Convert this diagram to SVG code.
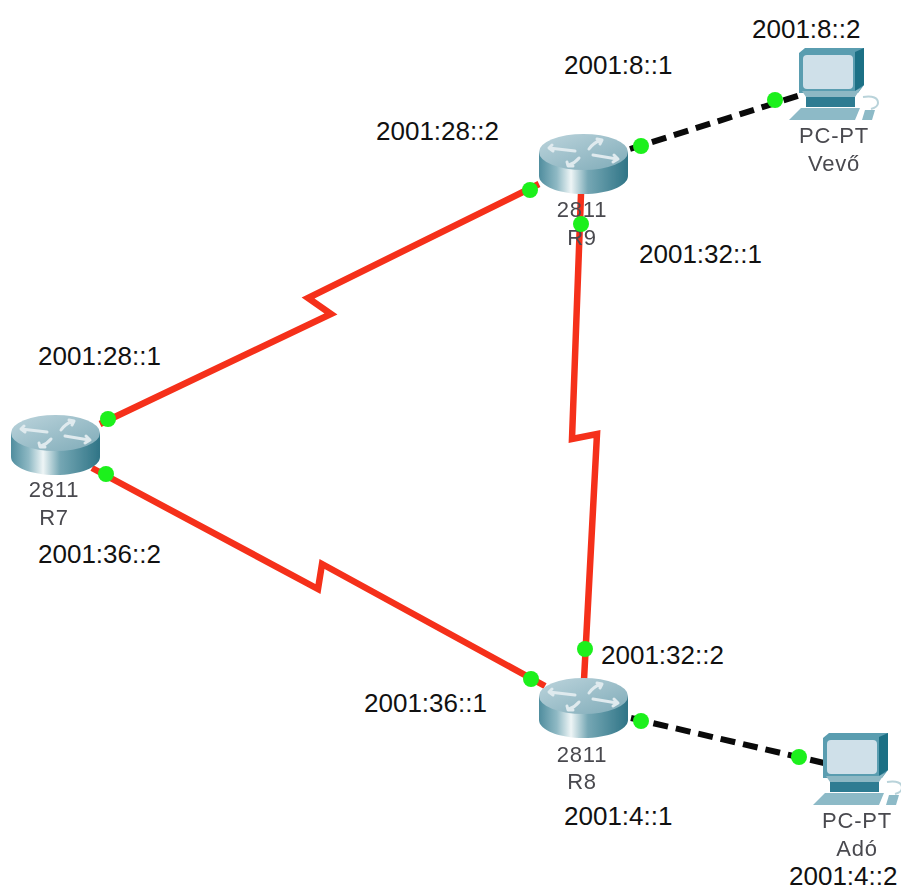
<svg xmlns="http://www.w3.org/2000/svg" width="901" height="891" viewBox="0 0 901 891">
<style>
.addr{font:26px "Liberation Sans",Arial,sans-serif;fill:#111}
.dev{font:22px "Liberation Sans",Arial,sans-serif;fill:#4a4a4f;text-anchor:middle;letter-spacing:.8px}
.serial{fill:none;stroke:#f5301a;stroke-width:6.500;stroke-linejoin:miter}
.eth{fill:none;stroke:#0a0a0a;stroke-width:6;stroke-dasharray:15 8}
.dot{fill:#1cf01c}
.arrow{fill:none;stroke:#dfeaee;stroke-width:3;stroke-linecap:round;stroke-linejoin:round}
</style>
<defs>
<linearGradient id="rb" x1="0" x2="1" y1="0" y2="0">
<stop offset="0" stop-color="#4f8d9e"/><stop offset=".2" stop-color="#8fb9c4"/><stop offset=".36" stop-color="#eef5f6"/><stop offset=".55" stop-color="#75a7b4"/><stop offset="1" stop-color="#2f7486"/>
</linearGradient>
<linearGradient id="rt" x1="0" x2="1" y1="0" y2="1">
<stop offset="0" stop-color="#bcd4dc"/><stop offset="1" stop-color="#7fabb8"/>
</linearGradient>
<filter id="soft" x="-5%" y="-5%" width="110%" height="110%"><feGaussianBlur stdDeviation="0.600"/></filter>
<g id="router">
<path d="M0 18V42C0 52 20 60 44.500 60S89 52 89 42V18Z" fill="url(#rb)"/>
<ellipse cx="44.500" cy="18" rx="44.500" ry="18" fill="url(#rt)"/>
<path class="arrow" d="M10 14 L36 17 M13 11 L10 14 L14 17"/>
<path class="arrow" d="M50 15 Q54 9 62 6 M58 5 L63 6 L61 10"/>
<path class="arrow" d="M54 21 L78 25 M74 28 L79 25 L75 21"/>
<path class="arrow" d="M30 31 Q36 29 40 24 M28 28 L29 32 L34 32"/>
</g>
<g id="pc">
<path d="M10 6 L16 1 H75 V38 L69 46 H10Z" fill="#5a9db0"/>
<path d="M66 5 L75 1 V38 L66 44Z" fill="#1f6f85"/>
<rect x="14" y="8" width="50" height="34" rx="4" fill="#cfe0e9"/>
<path d="M13 44 H66 L72 41 L66 50 H17Z" fill="#8db8c4"/>
<path d="M17 50 H66 V60 H17Z" fill="#2f7c92"/>
<path d="M12 61 H71 L66 73 H0Z" fill="#8dbac7"/>
<path d="M74 50 Q89 48 89 56 Q89 60 82 62" fill="none" stroke="#b9d3da" stroke-width="2"/>
<path d="M76 63 H86 L83 73 H73Z" fill="#8dbac7"/>
</g>
</defs>

<g id="connectors">
<path class="serial" d="M100 424 L331 314 L308 298 L539 184"/>
<path class="serial" d="M581 194 L572 439 L597 434 L584 680"/>
<path class="serial" d="M92 468 L318 589 L322 564 L545 686"/>
<path class="eth" d="M630 149 L804 94"/>
<path class="eth" d="M631 718 L824 763"/>
</g>

<g id="node-R7" filter="url(#soft)">
<use href="#router" x="11" y="415"/>
<text class="dev" x="54" y="497">2811</text>
<text class="dev" x="54" y="525">R7</text>
</g>
<g id="node-R9" filter="url(#soft)">
<use href="#router" x="539" y="134"/>
<text class="dev" x="582" y="217">2811</text>
<text class="dev" x="582" y="245">R9</text>
</g>
<g id="node-R8" filter="url(#soft)">
<use href="#router" x="539" y="678"/>
<text class="dev" x="582" y="762">2811</text>
<text class="dev" x="582" y="789">R8</text>
</g>
<g id="node-Vevo" filter="url(#soft)">
<use href="#pc" x="789" y="47"/>
<text class="dev" x="834" y="143">PC-PT</text>
<text class="dev" x="834" y="171">Vevő</text>
</g>
<g id="node-Ado" filter="url(#soft)">
<use href="#pc" x="813" y="732"/>
<text class="dev" x="857" y="828">PC-PT</text>
<text class="dev" x="857" y="856">Adó</text>
</g>

<g id="link-dots" class="dot">
<circle cx="108" cy="419" r="8"/><circle cx="106" cy="474" r="8"/>
<circle cx="530" cy="190" r="8"/><circle cx="581" cy="224" r="8"/>
<circle cx="641" cy="146" r="8"/><circle cx="775" cy="100" r="8"/>
<circle cx="531" cy="679" r="8"/><circle cx="585" cy="649" r="8"/>
<circle cx="641" cy="721" r="8"/><circle cx="799" cy="757" r="8"/>
</g>

<g id="labels">
<text class="addr" x="752" y="38">2001:8::2</text>
<text class="addr" x="564" y="74">2001:8::1</text>
<text class="addr" x="376" y="140">2001:28::2</text>
<text class="addr" x="639" y="263">2001:32::1</text>
<text class="addr" x="38" y="365">2001:28::1</text>
<text class="addr" x="38" y="563">2001:36::2</text>
<text class="addr" x="601" y="664">2001:32::2</text>
<text class="addr" x="364" y="712">2001:36::1</text>
<text class="addr" x="564" y="825">2001:4::1</text>
<text class="addr" x="789" y="885">2001:4::2</text>
</g>
</svg>
